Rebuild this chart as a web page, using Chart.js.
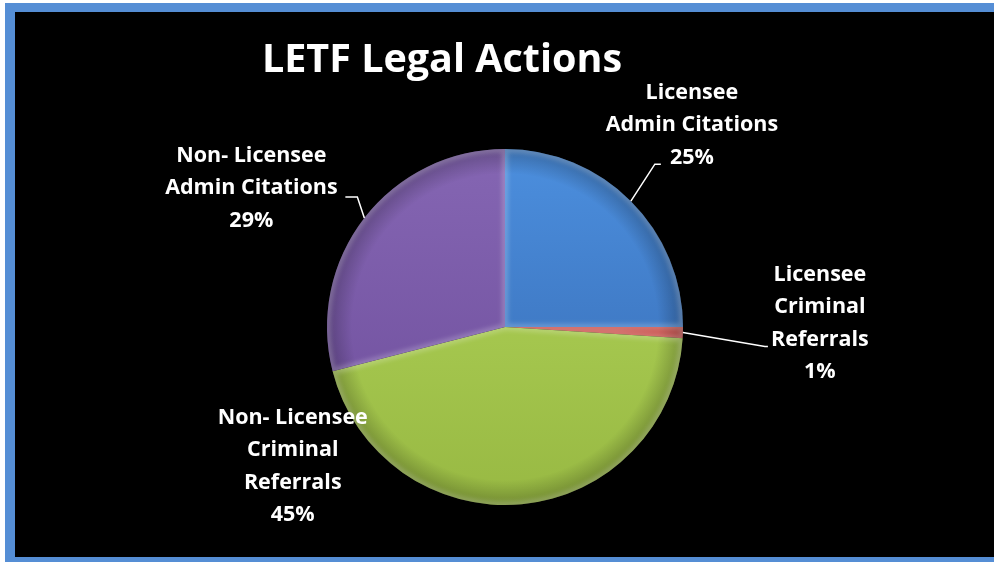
<!DOCTYPE html>
<html>
<head>
<meta charset="utf-8">
<title>LETF Legal Actions</title>
<script src="https://cdn.jsdelivr.net/npm/chart.js@4.4.0/dist/chart.umd.min.js"></script>
<style>
  html, body { margin: 0; padding: 0; background: #fff; overflow: hidden; }
  #page { position: relative; width: 100vw; height: 100vh; overflow: hidden; background: #fff; }
  #frame {
    position: absolute; left: 5px; top: 3px; right: -40px; height: 545px;
    background: #000;
    border: 10px solid #558ed5; border-top-width: 9px;
  }
  #chart { position: absolute; left: 0; top: 0; }
</style>
</head>
<body>
<div id="page">
  <div id="frame"></div>
  <canvas id="chart" width="994" height="562"></canvas>
</div>
<script>
var chartTitle = "LETF Legal Actions";
var categories = [
    ["Licensee", "Admin Citations"],
    ["Licensee", "Criminal", "Referrals"],
    ["Non- Licensee", "Criminal", "Referrals"],
    ["Non- Licensee", "Admin Citations"]
];
var shares = [25, 1, 45, 29];

var topColors = ["#4c8fde", "#da605b", "#b2d55a", "#8566b3"];
var bottomColors = ["#3467af", "#b8413d", "#98b943", "#6c4c9a"];

// where each label sits relative to the rim point at its slice's middle:
// elbow/end of the leader line (null = no line) and the centre of the text block
var labelLayout = [
    { elbow: [24, -37], end: [30, -37], text: [61, -76] },
    { elbow: [82, 14], end: [85, 14], text: [137, -9] },
    { elbow: null, end: null, text: [-229, -38] },
    { elbow: [-7, -21], end: [-19, -21], text: [-113, -30] }
];

function verticalShade(context) {
    const i = context.dataIndex;
    const area = context.chart.chartArea;
    if (!area) return topColors[i];
    const g = context.chart.ctx.createLinearGradient(0, area.top, 0, area.bottom);
    g.addColorStop(0, topColors[i]);
    g.addColorStop(1, bottomColors[i]);
    return g;
}

function slicePath(ctx, p) {
    ctx.beginPath();
    ctx.moveTo(p.x, p.y);
    ctx.arc(p.x, p.y, p.outerRadius, p.startAngle, p.endAngle);
    ctx.closePath();
}

// soft bevel on every slice, then the title and the data labels
const pieDecor = {
    id: "pieDecor",
    afterDatasetsDraw(chart) {
        const ctx = chart.ctx;
        const arcs = chart.getDatasetMeta(0).data;
        arcs.forEach((arc) => {
            const p = arc.getProps(["x", "y", "startAngle", "endAngle", "outerRadius"], true);
            ctx.save();
            slicePath(ctx, p);
            ctx.clip();
            const rim = ctx.createRadialGradient(p.x, p.y, p.outerRadius * 0.86, p.x, p.y, p.outerRadius);
            rim.addColorStop(0, "rgba(0,0,0,0)");
            rim.addColorStop(1, "rgba(0,0,0,0.25)");
            ctx.fillStyle = rim;
            ctx.fillRect(p.x - p.outerRadius, p.y - p.outerRadius, p.outerRadius * 2, p.outerRadius * 2);
            slicePath(ctx, p);
            ctx.filter = "blur(2px)";
            ctx.strokeStyle = "rgba(255,255,255,0.2)";
            ctx.lineWidth = 7;
            ctx.stroke();
            ctx.restore();
        });
    },
    afterDraw(chart) {
        const ctx = chart.ctx;
        ctx.save();
        ctx.fillStyle = "#fff";
        ctx.textAlign = "center";
        ctx.textBaseline = "alphabetic";
        ctx.font = "bold 39.5px 'Open Sans'";
        ctx.fillText(chartTitle, 442, 72);

        const arcs = chart.getDatasetMeta(0).data;
        ctx.font = "bold 21.5px 'Open Sans'";
        ctx.textBaseline = "middle";
        ctx.strokeStyle = "#fff";
        ctx.lineWidth = 1.5;
        arcs.forEach((arc, i) => {
            const p = arc.getProps(["x", "y", "startAngle", "endAngle", "outerRadius"], true);
            const mid = (p.startAngle + p.endAngle) / 2;
            const ax = p.x + Math.cos(mid) * p.outerRadius;
            const ay = p.y + Math.sin(mid) * p.outerRadius;
            const lay = labelLayout[i];
            if (lay.elbow) {
                ctx.beginPath();
                ctx.moveTo(ax, ay);
                ctx.lineTo(ax + lay.elbow[0], ay + lay.elbow[1]);
                ctx.lineTo(ax + lay.end[0], ay + lay.end[1]);
                ctx.stroke();
            }
            const lines = categories[i].concat([shares[i] + "%"]);
            const lh = 32.5;
            const cx = ax + lay.text[0];
            const cy = ay + lay.text[1] - (lines.length - 1) * lh / 2;
            lines.forEach((line, k) => ctx.fillText(line, cx, cy + k * lh));
        });
        ctx.restore();
    }
};

new Chart(document.getElementById("chart"), {
    type: "pie",
    data: {
        labels: categories,
        datasets: [{
            data: shares,
            backgroundColor: verticalShade,
            borderWidth: 0
        }]
    },
    options: {
        responsive: false,
        animation: false,
        layout: { padding: { left: 16, right: 0, top: 149, bottom: 57 } },
        plugins: {
            legend: { display: false },
            tooltip: { enabled: false }
        }
    },
    plugins: [pieDecor]
});
</script>
</body>
</html>
